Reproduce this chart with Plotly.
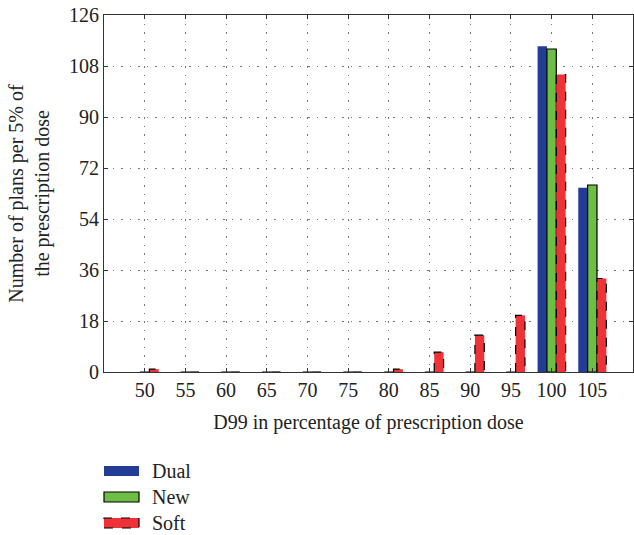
import plotly.graph_objects as go

# D99 bins (percent of prescription dose) and plan counts per technique
dose_bins = [50, 55, 60, 65, 70, 75, 80, 85, 90, 95, 100, 105]
dual = [0, 0, 0, 0, 0, 0, 0, 0, 0, 0, 115, 65]
new = [0, 0, 0, 0, 0, 0, 0, 0, 0, 0, 114, 66]
soft = [1, 0, 0, 0, 0, 0, 1, 7, 13, 20, 105, 33]

y_ticks = [0, 18, 36, 54, 72, 90, 108, 126]

BLUE = "#233D96"
GREEN = "#6CBE45"
RED = "#EE3338"
FONT = "Liberation Serif"
FS = 20

bin_step = 5
group_frac = 0.69
bar_w = bin_step * group_frac / 3
offsets = [-1.5 * bar_w, -0.5 * bar_w, 0.5 * bar_w]

fig = go.Figure()
fig.add_trace(go.Bar(x=dose_bins, y=dual, name="Dual", width=bar_w, offset=offsets[0],
                     marker=dict(color=BLUE, line=dict(width=0))))
fig.add_trace(go.Bar(x=dose_bins, y=new, name="New", width=bar_w, offset=offsets[1],
                     marker=dict(color=GREEN, line=dict(color="black", width=1.2))))
fig.add_trace(go.Bar(x=dose_bins, y=soft, name="Soft", width=bar_w, offset=offsets[2],
                     marker=dict(color=RED, line=dict(width=0))))

# dashed outline around each Soft bar, built from the same offsets and values
ox, oy = [], []
for xb, v in zip(dose_bins, soft):
    x0 = xb + offsets[2]
    x1 = x0 + bar_w
    ox += [x0, x0, x1, x1, None]
    oy += [0, v, v, 0, None]
fig.add_trace(go.Scatter(x=ox, y=oy, mode="lines", showlegend=False, hoverinfo="skip",
                         line=dict(color="black", width=1.2, dash="dash")))

# plot area in pixels
L, R, T, B = 104, 633, 15, 372
W, H = 634, 535

fig.update_layout(
    width=W, height=H,
    margin=dict(l=L, r=W - R, t=T, b=H - B),
    paper_bgcolor="white", plot_bgcolor="white",
    barmode="overlay",
    showlegend=False,
    font=dict(family=FONT, size=FS, color="#222"),
)
grid_dash = "1.5px,7px"
fig.update_xaxes(
    range=[45, 110], tickvals=dose_bins, ticktext=[str(v) for v in dose_bins],
    showline=True, linecolor="#333", linewidth=1, mirror="ticks",
    ticks="inside", ticklen=4, tickcolor="#333",
    showgrid=True, gridcolor="#777", griddash=grid_dash, gridwidth=1,
    zeroline=False,
    title=dict(text="D99 in percentage of prescription dose", standoff=14,
               font=dict(family=FONT, size=FS)),
)
fig.update_yaxes(
    range=[0, 126], tickvals=y_ticks,
    showline=True, linecolor="#333", linewidth=1, mirror="ticks",
    ticks="inside", ticklen=4, tickcolor="#333",
    showgrid=True, gridcolor="#777", griddash=grid_dash, gridwidth=1,
    zeroline=False,
    title=dict(text="Number of plans per 5% of<br>the prescription dose", standoff=14,
               font=dict(family=FONT, size=FS)),
)

# legend drawn below the plot: swatches and labels (paper coords of the plot area)
legend_items = [("Dual", BLUE, None, None), ("New", GREEN, "black", "solid"),
                ("Soft", RED, "black", "dash")]
row_y = [471, 497, 523]


def px_x(x):
    return (x - L) / (R - L)


def px_y(y):
    return (B - y) / (B - T)


for (label, fill, lc, dash), yy in zip(legend_items, row_y):
    fig.add_shape(type="rect", xref="paper", yref="paper",
                  x0=px_x(104), x1=px_x(139), y0=px_y(yy + 5), y1=px_y(yy - 5),
                  fillcolor=fill,
                  line=dict(color=lc if lc else fill, width=1.2 if lc else 0,
                            dash=dash if dash else "solid"))
    fig.add_annotation(xref="paper", yref="paper", x=px_x(150), y=px_y(yy),
                       text=label, showarrow=False, xanchor="left", yanchor="middle",
                       font=dict(family=FONT, size=FS, color="#222"))

fig.write_html("out.html")
